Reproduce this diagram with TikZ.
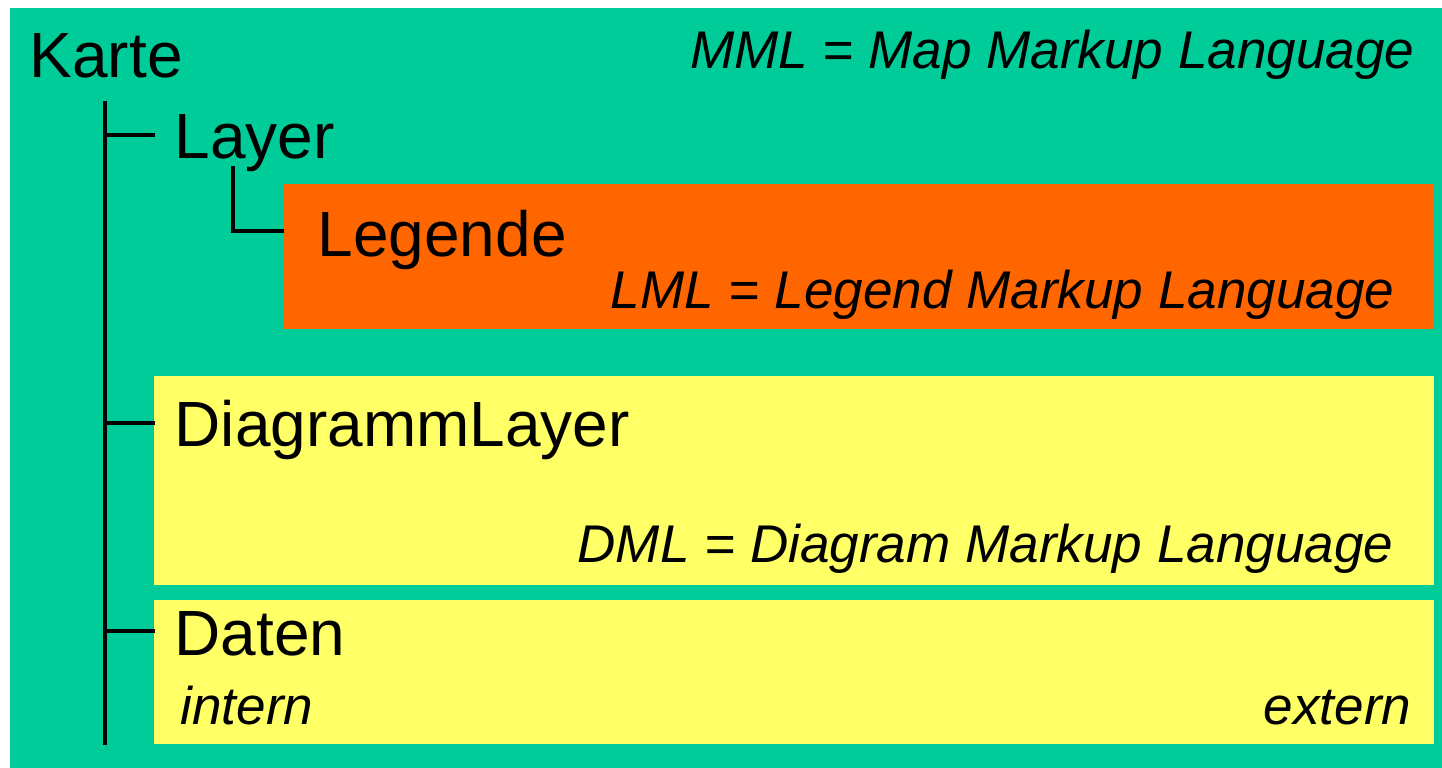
\documentclass[tikz,border=0pt]{standalone}
\usepackage{fontspec}
\setmainfont{Liberation Sans}
\definecolor{mapgreen}{RGB}{0, 204, 153}
\definecolor{legorange}{RGB}{255, 102, 0}
\definecolor{diagyellow}{RGB}{255, 255, 102}
\usetikzlibrary{positioning}

\begin{document}
\begin{tikzpicture}[
  panel/.style={rectangle, draw=none, inner sep=0pt, anchor=north west},
  big/.style={inner sep=0pt, font=\fontsize{18.2}{22}\selectfont},
  note/.style={inner sep=0pt, font=\fontsize{15.1}{18}\selectfont\itshape},
  tree/.style={line width=1pt, line cap=rect},
]
\useasboundingbox (0,0) rectangle (14.42,-7.68);
% Background
\node[panel, fill=mapgreen, minimum width=14.33cm, minimum height=7.61cm] (map) at (0.09,-0.07) {};

% Boxes
\node[panel, fill=legorange, minimum width=11.51cm, minimum height=1.45cm] (legbox) at (2.82,-1.83) {};
\node[panel, fill=diagyellow, minimum width=12.80cm, minimum height=2.09cm] (diagbox) at (1.53,-3.75) {};
\node[panel, fill=diagyellow, minimum width=12.80cm, minimum height=1.44cm] (datbox) at (1.53,-5.99) {};

% Labels
\node[big, anchor=base west] (karte) at (0.29,-0.78) {Karte};
\node[big, anchor=base west] (layer) at (1.74,-1.59) {Layer};
\node[big, anchor=base west] (legende) at (3.17,-2.56) {Legende};
\node[big, anchor=base west] (diagramm) at (1.74,-4.46) {DiagrammLayer};
\node[big, anchor=base west] (daten) at (1.74,-6.55) {Daten};

\node[note, anchor=base east] (mml) at (14.15,-0.68) {MML = Map Markup Language};
\node[note, anchor=base east] (lml) at (13.95,-3.08) {LML = Legend Markup Language};
\node[note, anchor=base east] (dml) at (13.94,-5.62) {DML = Diagram Markup Language};
\node[note, anchor=base west] (intern) at (1.80,-7.24) {intern};
\node[note, anchor=base east] (extern) at (14.12,-7.24) {extern};

% Tree
\coordinate (trunktop) at (1.05,-1.03);
\coordinate (trunkend) at (1.05,-7.43);
\coordinate (layerhook) at (2.33,-1.68);
\draw[tree] (trunktop) -- (trunkend);
\draw[tree] (trunktop |- 0,-1.35) -- (1.53,-1.35);
\draw[tree] (trunktop |- 0,-4.23) -- (diagbox.west |- 0,-4.23);
\draw[tree] (trunktop |- 0,-6.31) -- (datbox.west |- 0,-6.31);
\draw[tree] (layerhook) |- (legbox.west |- 0,-2.31);
\end{tikzpicture}
\end{document}
